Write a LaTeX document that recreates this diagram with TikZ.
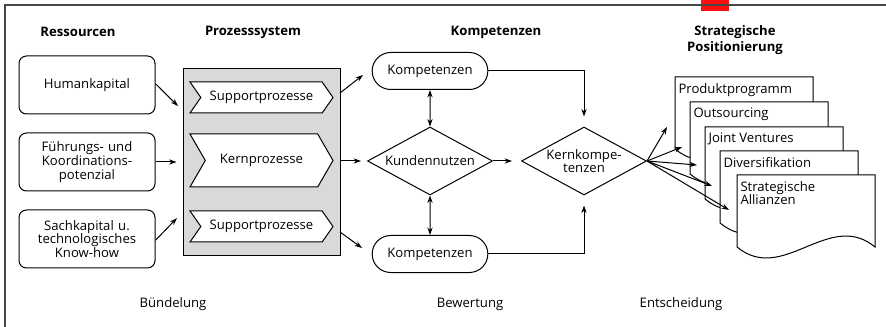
\documentclass[tikz,border=0pt]{standalone}
\usepackage{fontspec}
\setmainfont{Open Sans}
\usepackage{tikz}
\usetikzlibrary{positioning, arrows, arrows.meta, shapes}
\usetikzlibrary{shapes.geometric, shapes.symbols, shapes.misc}
\definecolor{procgray}{HTML}{D9D9D9}
\definecolor{framegray}{HTML}{474747}
\definecolor{markred}{HTML}{FF1010}
\tikzstyle{titleblock} = [font=\bfseries\fontsize{10.5}{13}\selectfont, align=center]
\tikzstyle{stageblock} = [rectangle]
\tikzstyle{resblock} = [rectangle, draw, text width=100pt, text centered,
rounded corners=6pt, minimum width=108.8pt, minimum height=46.4pt, inner sep=0pt]
\tikzstyle{procbox} = [rectangle, draw, fill=procgray, minimum width=125.6pt, minimum height=149.6pt]
\tikzstyle{procblock} = [signal, signal to=east, signal from=west, draw, fill=white,
text centered, minimum width=114.4pt, minimum height=24.8pt, inner sep=0pt, signal pointer angle=110]
\tikzstyle{kompblock} = [rounded rectangle, draw, minimum width=99.2pt, minimum height=29.6pt]
\tikzstyle{diablock} = [diamond, draw, align=center, inner sep=0pt, aspect=1.84,
minimum width=100pt, minimum height=54.4pt]
\tikzstyle{docblock} = [rectangle, align=left, inner xsep=2.4pt, inner ysep=4.5pt]
\tikzstyle{arrow} = [->,>={Stealth[length=6pt,width=4.2pt]}]
\tikzstyle{dblarrow} = [<->,>={Stealth[length=6pt,width=4.2pt]}]
% one sheet of the stack: name, x, y, y of the arrow tip, text
\newcommand{\stratdoc}[5]{%
  \begin{scope}[shift={(#2,#3)}]
    \draw[fill=white] (0,0) -- (138,0) -- (138,72) .. controls (92,34) and (46,110) .. (0,72) -- cycle;
    \node (#1) [docblock, anchor=north west] at (0,0) {#5};
    \coordinate (#1tip) at (-8,#4);
  \end{scope}}

\begin{document}
\begin{tikzpicture}[x=0.8pt, y=-0.8pt, line width=0.8pt, node distance=61.6pt]
                \tikzstyle{every node}=[font=\fontsize{10.5}{11}\selectfont]
                \useasboundingbox (0,0) rectangle (886,327);
                \fill[markred] (701,0) rectangle (729,11);
                \draw[framegray, line width=1.6pt] (4,5.5) -- (886,5.5);
                \draw[framegray, line width=1.6pt] (5,5) -- (5,327);
                \node (17) [titleblock] at (78,32) {Ressourcen};
                \node (18) [titleblock] at (253,32) {Prozesssystem};
                \node (19) [titleblock] at (496,32) {Kompetenzen};
                \node (20) [titleblock] at (735,40) {Strategische\\Positionierung};
                \node (1) [resblock] at (87,85) {Humankapital};
                \node (2) [resblock, below of=1] {F\"uhrungs- und\\Koordinations-\\potenzial};
                \node (3) [resblock, below of=2] {Sachkapital u.\\technologisches\\Know-how};
                \node (4) [procbox] at (261.5,162.5) {};
                \node (5) [procblock] at (261.5,97.5) {Supportprozesse};
                \node (6) [procblock, minimum height=42.4pt, signal pointer angle=120] at (261.5,160.5) {Kernprozesse};
                \node (7) [procblock] at (261.5,226.5) {Supportprozesse};
                \node (8) [kompblock] at (430,71) {Kompetenzen};
                \node (9) [diablock] at (430,161) {Kundennutzen};
                \node (10) [kompblock] at (430,254) {Kompetenzen};
                \node (11) [diablock] at (584,161) {Kernkompe-\\tenzen};
                \stratdoc{12}{675}{77}{50}{Produktprogramm}
                \stratdoc{13}{690}{102}{45}{Outsourcing}
                \stratdoc{14}{705}{127}{38}{Joint Ventures}
                \stratdoc{15}{720}{151}{35}{Diversifikation}
                \stratdoc{16}{737}{175}{35}{Strategische\\Allianzen}
                \node (21) [stageblock] at (173,304) {B\"undelung};
                \node (22) [stageblock] at (470,304) {Bewertung};
                \node (23) [stageblock] at (681,304) {Entscheidung};
                \coordinate (24) at (178,106);
                \coordinate (25) at (177,218);
                \coordinate (26) at (340,93);
                \coordinate (27) at (363,75);
                \coordinate (28) at (340,232);
                \coordinate (29) at (362,248);
                \draw [arrow] ([yshift=1pt]1.east) -- (24);
                \draw [arrow, shorten >=4.8pt] (2.east) -- (4.west |- 2.east);
                \draw [arrow] ([yshift=-1pt]3.east) -- (25);
                \draw [arrow] (26) -- (27);
                \draw [arrow, shorten >=4.8pt] (4.east |- 9.west) -- (9.west);
                \draw [arrow] (28) -- (29);
                \draw [dblarrow] (8) -- (9);
                \draw [dblarrow] (9) -- (10);
                \draw [arrow, shorten >=7.2pt] (9) -- (11);
                \draw [arrow, shorten >=8pt] (8.east) -| (11.north);
                \draw [arrow, shorten >=8pt] (10.east) -| (11.south);
                \foreach \d in {12,...,16}
                  \draw [arrow] (11.east) -- (\d tip);
        \end{tikzpicture}
\end{document}
